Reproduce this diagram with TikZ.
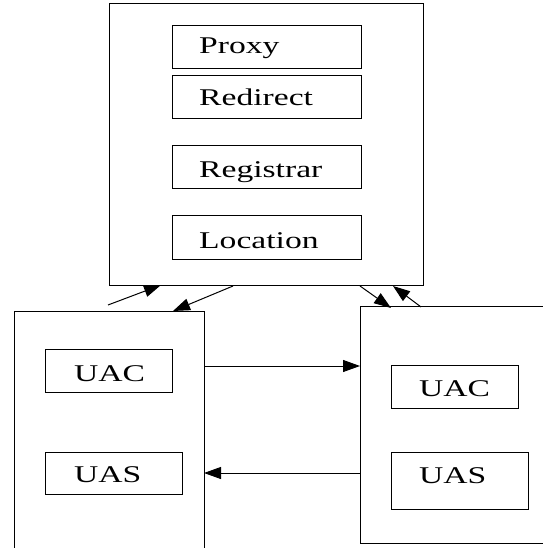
\documentclass[tikz,border=0pt]{standalone}
\usepackage{fontspec}
\setmainfont{Liberation Serif}
\usetikzlibrary{arrows.meta}
\tikzset{
  box/.style={draw, line width=1pt, inner sep=0pt, anchor=north west},
  lbl/.style={anchor=base west, inner sep=0pt, font=\fontsize{24}{24}\selectfont},
  conn/.style={line width=1pt, -{Triangle[length=17pt,width=12pt]}}
}
\newcommand{\wide}[1]{\scalebox{1.4}[1]{#1}}
\begin{document}
\begin{tikzpicture}[x=1pt,y=-1pt]
\useasboundingbox (0,0) rectangle (542,548);
% server box
\node[box, minimum width=314pt, minimum height=282pt] (srv) at (109,3) {};
\node[box, minimum width=189pt, minimum height=43pt] (proxyb) at (172,25) {};
\node[box, minimum width=189pt, minimum height=43pt] (redirb) at (172,75) {};
\node[box, minimum width=189pt, minimum height=43pt] (regb) at (172,145) {};
\node[box, minimum width=189pt, minimum height=44pt] (locb) at (172,215) {};
\node[lbl] (proxyt) at (199,54) {\wide{Proxy}};
\node[lbl] (redirt) at (199,106) {\wide{Redirect}};
\node[lbl] (regt) at (199,177) {\wide{Registrar}};
\node[lbl] (loct) at (199,248) {\wide{Location}};
% left user agent
\node[box, minimum width=190pt, minimum height=245pt] (lua) at (14,311) {};
\node[box, minimum width=127pt, minimum height=43pt] (luacb) at (45,349) {};
\node[box, minimum width=137pt, minimum height=42pt] (luasb) at (45,452) {};
\node[lbl] (luact) at (74,381) {\wide{UAC}};
\node[lbl] (luast) at (74,482) {\wide{UAS}};
% right user agent
\node[box, minimum width=195pt, minimum height=237pt] (rua) at (360,306) {};
\node[box, minimum width=127pt, minimum height=43pt] (ruacb) at (391,365) {};
\node[box, minimum width=137pt, minimum height=57pt] (ruasb) at (391,452) {};
\node[lbl] (ruact) at (419,396) {\wide{UAC}};
\node[lbl] (ruast) at (419,483) {\wide{UAS}};
% connector end points
\coordinate (a1s) at (108,305);
\coordinate (a1e) at (161,285);
\coordinate (a2s) at (233,286);
\coordinate (a2e) at (173,311);
\coordinate (a3s) at (360,286);
\coordinate (a3e) at (391,308);
\coordinate (a4s) at (421,307);
\coordinate (a4e) at (393,286);
\coordinate (h1s) at (204,366);
\coordinate (h1e) at (360,366);
\coordinate (h2s) at (360,473);
\coordinate (h2e) at (204,473);
\draw[conn] (a1s) -- (a1e);
\draw[conn] (a2s) -- (a2e);
\draw[conn] (a3s) -- (a3e);
\draw[conn] (a4s) -- (a4e);
\draw[conn] (h1s) -- (h1e);
\draw[conn] (h2s) -- (h2e);
\end{tikzpicture}
\end{document}
